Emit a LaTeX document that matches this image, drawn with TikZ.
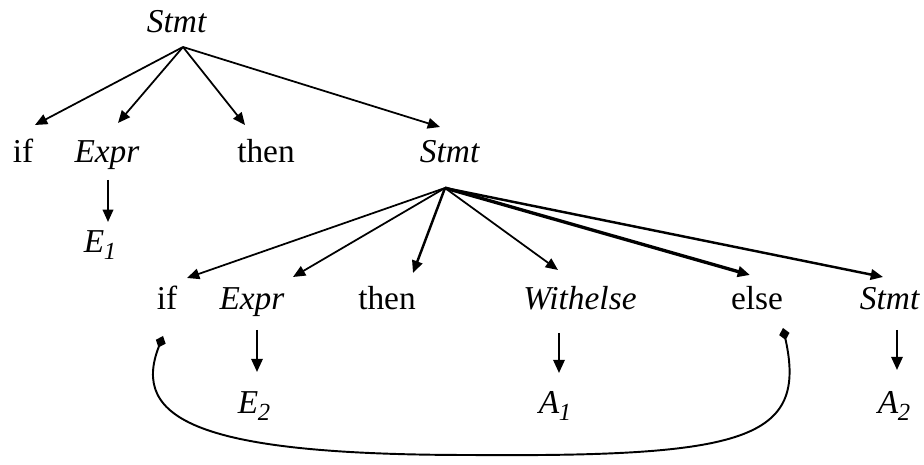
\documentclass[tikz,border=0pt]{standalone}
\usepackage{fontspec}
\setmainfont{Liberation Serif}
\usepackage{tikz}
\usetikzlibrary{arrows.meta,positioning,calc}

\newcommand{\lsub}[2]{\textit{#1\kern-0.3pt\raisebox{-0.45ex}{\fontsize{14}{14}\selectfont #2}}}

\begin{document}
\begin{tikzpicture}[
        x=0.02cm, y=-0.02cm,
        font=\fontsize{19}{22}\selectfont,
        word/.style={anchor=base, inner sep=0pt},
        edge/.style={-{Triangle[length=7pt,width=6pt]}, line width=1pt},
        thickedge/.style={edge, line width=1.4pt},
        boldedge/.style={edge, line width=1.9pt},
        down/.style={-{Triangle[length=7.5pt,width=6.5pt]}, line width=1.2pt},
        link/.style={{Diamond[length=7pt,width=6pt]}-{Diamond[length=7pt,width=6pt]}, line width=1.1pt}
    ]
    \useasboundingbox (0,0) rectangle (924,465);

    % Root
    \node[word] (root) at (177,33) {\textit{Stmt}};

    % First level
    \node[word] (if1)   at (23,163)  {if};
    \node[word] (expr1) at (107,163) {\textit{Expr}};
    \node[word] (then1) at (266,163) {then};
    \node[word] (stmt1) at (450,163) {\textit{Stmt}};
    \node[word] (e1)    at (100,253) {\lsub{E}{1}};

    % Second level
    \node[word] (if2)   at (167,310) {if};
    \node[word] (expr2) at (252,310) {\textit{Expr}};
    \node[word] (then2) at (387,310) {then};
    \node[word] (with)  at (580,310) {\textit{Withelse}};
    \node[word] (else2) at (757,310) {else};
    \node[word] (stmt2) at (890,310) {\textit{Stmt}};

    % Leaves
    \node[word] (e2) at (254,414) {\lsub{E}{2}};
    \node[word] (a1) at (555,414) {\lsub{A}{1}};
    \node[word] (a2) at (894,414) {\lsub{A}{2}};

    % Root -> first level
    \coordinate (r0) at ($(root.base)+(6,14)$);
    \draw[edge] (r0) -- ($(if1.base)+(12,-38)$);
    \draw[edge] (r0) -- ($(expr1.base)+(11,-40)$);
    \draw[edge] (r0) -- ($(then1.base)+(-21,-38)$);
    \draw[edge] (r0) -- ($(stmt1.base)+(-10,-36)$);
    \draw[edge] ($(expr1.base)+(1,17)$) -- ($(e1.base)+(8,-31)$);

    % Inner Stmt -> second level
    \coordinate (s0) at ($(stmt1.base)+(-5,25)$);
    \draw[edge]      (s0) -- ($(if2.base)+(20,-32)$);
    \draw[edge]      (s0) -- ($(expr2.base)+(41,-33)$);
    \draw[thickedge] (s0) -- ($(then2.base)+(26,-37)$);
    \draw[edge]      (s0) -- ($(with.base)+(-22,-40)$);
    \draw[boldedge]  (s0) -- ($(else2.base)+(-7,-35)$);
    \draw[thickedge] (s0) -- ($(stmt2.base)+(-7,-33)$);

    % Second level -> leaves
    \draw[down] ($(expr2.base)+(5,20)$)  -- ($(e2.base)+(3,-42)$);
    \draw[down] ($(with.base)+(-21,23)$) -- ($(a1.base)+(4,-41)$);
    \draw[down] ($(stmt2.base)+(7,20)$)  -- ($(a2.base)+(3,-44)$);

    % if ... else link
    \coordinate (ifend)   at ($(if2.base)+(-4,26)$);
    \coordinate (elseend) at ($(else2.base)+(26,18)$);
    \draw[link] (ifend) .. controls (130,420) and (200,455) .. (470,455)
                        .. controls (745,457) and (808,440) .. (elseend);

\end{tikzpicture}
\end{document}
